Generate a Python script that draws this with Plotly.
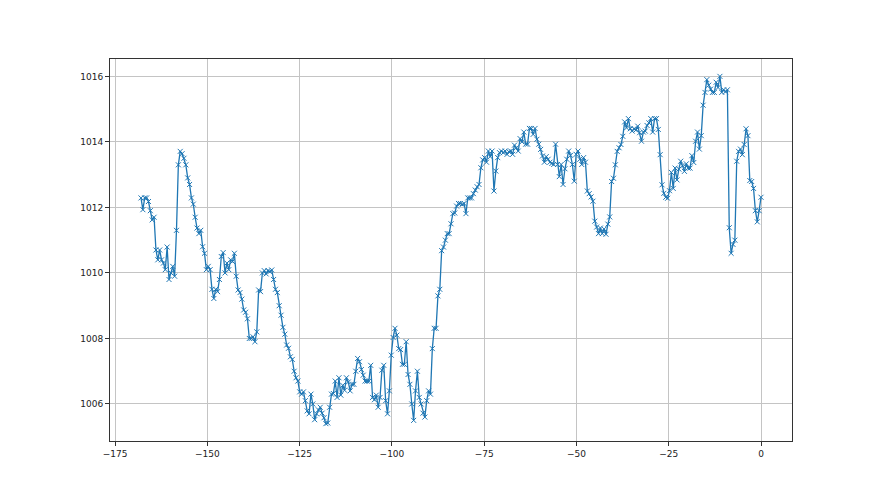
"""
Barometric pressure over the last week (hours before now), drawn in a
matplotlib-like style: thin blue line with x markers and a light grid.
"""
import numpy as np
import plotly.graph_objects as go

# --------------------------------------------------------------------------
# Data (half-hourly samples)
# --------------------------------------------------------------------------

PRESSURE_WEEK_START = [
    1012.29, 1011.93, 1012.29, 1012.29, 1012.18, 1011.9, 1011.62, 1011.7, 1010.7, 1010.4,
    1010.7, 1010.4, 1010.3, 1010.1, 1010.79, 1009.8, 1010.0, 1010.2, 1009.9, 1011.3,
    1013.3, 1013.71, 1013.64, 1013.5, 1013.3, 1012.9, 1012.7, 1012.29, 1012.1, 1011.7,
    1011.37, 1011.2, 1011.3, 1010.8, 1010.6, 1010.1, 1010.2, 1010.1, 1009.5, 1009.22,
    1009.5, 1009.43, 1009.8, 1010.5, 1010.62, 1010.0, 1010.3, 1010.1, 1010.4, 1010.35,
    1010.6, 1009.9, 1009.48, 1009.4, 1009.2, 1008.87, 1008.8, 1008.6, 1008.0, 1008.0,
    1008.05, 1007.9, 1008.2, 1009.48, 1009.43, 1010.0, 1010.07, 1009.97, 1010.07, 1010.04,
    1010.09, 1009.8, 1009.5, 1009.4, 1009.0, 1008.71, 1008.34, 1008.13, 1007.8, 1007.7,
    1007.44, 1007.36, 1007.0, 1006.8,
]

PRESSURE_LOW = [
    1006.7, 1006.37, 1006.3, 1006.37, 1006.1, 1005.79, 1005.7, 1006.3, 1006.0, 1005.52,
    1005.7, 1005.82, 1005.9, 1005.72, 1005.58, 1005.4, 1005.42, 1005.9, 1006.3, 1006.32,
    1006.7, 1006.2, 1006.8, 1006.27, 1006.57, 1006.42, 1006.8, 1006.67, 1006.4, 1006.6,
    1006.6, 1007.0, 1007.39, 1007.29, 1007.05, 1006.88, 1006.7, 1006.7, 1006.7, 1007.18,
    1006.2, 1006.13, 1006.27, 1005.9, 1006.2, 1007.03, 1007.18, 1006.1, 1005.7, 1006.4,
    1007.49, 1008.03, 1008.31, 1008.1, 1007.69, 1007.66, 1007.21, 1007.21, 1007.9, 1006.9,
    1006.6, 1006.0, 1005.5, 1006.4, 1007.0, 1006.2, 1006.0, 1005.72, 1005.6, 1006.1,
    1006.4, 1006.3, 1007.69, 1008.31, 1008.31, 1009.3, 1009.5, 1010.68, 1010.79, 1011.0,
    1011.2, 1011.2, 1011.5,
]

PRESSURE_RISE = [
    1011.81, 1011.83, 1012.04, 1012.12, 1012.12, 1012.09, 1012.12, 1011.81, 1012.29, 1012.29,
    1012.29, 1012.42, 1012.53, 1012.63, 1012.7, 1013.21, 1013.45, 1013.52, 1013.38, 1013.72,
    1013.55, 1013.72, 1012.5, 1013.11, 1013.52, 1013.67, 1013.72, 1013.67, 1013.72, 1013.62,
    1013.7, 1013.72, 1013.62, 1013.9, 1013.82, 1013.72, 1014.1, 1014.0, 1014.3, 1013.93,
    1013.93, 1014.41, 1014.41, 1014.23, 1014.41, 1014.08, 1013.93, 1013.77, 1013.57, 1013.38,
    1013.55, 1013.47, 1013.38, 1013.34, 1013.31, 1013.93, 1013.31, 1012.94, 1013.31, 1012.7,
    1013.18, 1013.47, 1013.72, 1013.59, 1013.31, 1012.8, 1013.62, 1013.72, 1013.47, 1013.31,
    1013.52, 1013.38, 1012.5, 1012.42, 1012.32, 1012.19, 1011.58, 1011.4, 1011.2, 1011.37,
    1011.2, 1011.34,
]

PRESSURE_RECENT = [
    1011.18, 1011.49, 1011.71, 1012.79, 1012.89, 1013.3, 1013.71, 1013.82, 1013.92, 1014.17,
    1014.61, 1014.43, 1014.71, 1014.4, 1014.33, 1014.4, 1014.36, 1014.48, 1014.28, 1014.02,
    1014.3, 1014.33, 1014.5, 1014.58, 1014.71, 1014.3, 1014.71, 1014.71, 1014.38, 1013.61,
    1012.69, 1012.43, 1012.31, 1012.28, 1012.51, 1013.07, 1012.58, 1013.2, 1012.84, 1013.17,
    1013.41, 1013.27, 1013.1, 1013.33, 1013.2, 1013.2, 1013.58, 1013.37, 1014.02, 1014.3,
    1013.78, 1014.19, 1015.12, 1015.51, 1015.9, 1015.73, 1015.61, 1015.51, 1015.51, 1015.82,
    1015.66, 1016.0, 1015.51, 1015.59, 1015.53, 1015.59, 1011.38, 1010.6, 1010.87, 1011.0,
    1013.41, 1013.71, 1013.78, 1013.61, 1013.92, 1014.4, 1014.19, 1012.82, 1012.79, 1012.58,
    1011.9, 1011.56, 1011.9, 1012.31,
]

FIRST_HOUR = -168
LAST_HOUR = 0

X_TICKS = [-175, -150, -125, -100, -75, -50, -25, 0]
Y_TICKS = [1006, 1008, 1010, 1012, 1014, 1016]

pressure = PRESSURE_WEEK_START + PRESSURE_LOW + PRESSURE_RISE + PRESSURE_RECENT
# samples are evenly spaced between the first and last hour
hours = np.linspace(FIRST_HOUR, LAST_HOUR, len(pressure))

# --------------------------------------------------------------------------
# Styling
# --------------------------------------------------------------------------

LINE_COLOR = "#1f77b4"
GRID_COLOR = "#c4c4c4"


def _padded_range(values, pad=0.05):
    """Matplotlib-like 5% auto margins around the data."""
    low, high = float(min(values)), float(max(values))
    span = high - low
    return [low - pad * span, high + pad * span]


figure = go.Figure()
figure.add_trace(
    go.Scatter(
        x=hours,
        y=pressure,
        mode="lines+markers",
        line={"color": LINE_COLOR, "width": 1.3},
        marker={
            "symbol": "x-thin",
            "size": 5,
            "color": LINE_COLOR,
            "line": {"width": 1, "color": LINE_COLOR},
        },
        showlegend=False,
    )
)

axis_common = dict(
    showgrid=True,
    gridcolor=GRID_COLOR,
    gridwidth=0.8,
    zeroline=False,
    showline=True,
    linecolor="#333333",
    linewidth=1,
    mirror=True,
    ticks="outside",
    ticklen=4,
    tickcolor="#333333",
    tickfont={"family": "DejaVu Sans", "size": 9, "color": "#222222"},
)

figure.update_xaxes(
    range=_padded_range(hours),
    tickvals=X_TICKS,
    **axis_common,
)
figure.update_yaxes(
    range=_padded_range(pressure),
    tickvals=Y_TICKS,
    **axis_common,
)

# the page body adds an 8px offset, so the margins are trimmed to keep the
# plot frame where the reference has it
figure.update_layout(
    width=880,
    height=495,
    margin={"l": 102, "r": 96, "t": 51, "b": 62},
    paper_bgcolor="white",
    plot_bgcolor="white",
    showlegend=False,
)

figure.write_html("out.html")
